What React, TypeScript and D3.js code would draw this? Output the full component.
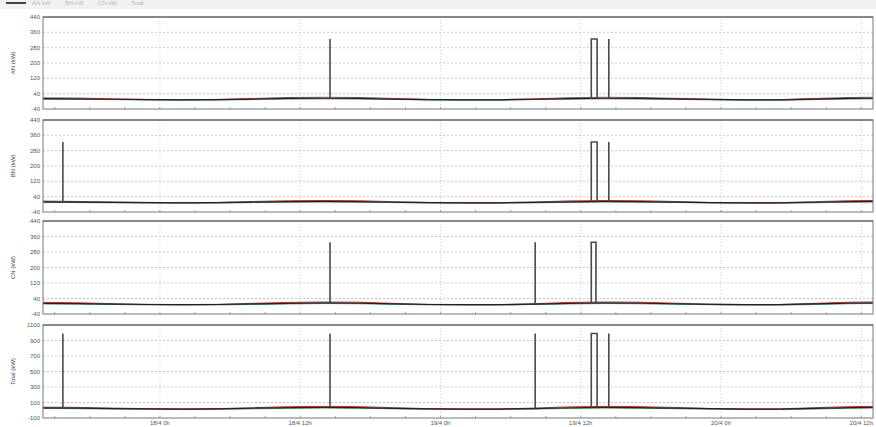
import React from "react";
import * as d3 from "d3";

// time in hours relative to 18/4 0h
const times = [-10, -7, -4, -1, 2, 5, 8, 11, 14, 17, 20, 23, 26, 29, 32, 35, 38, 41, 44, 47, 50, 53, 56, 59, 61];

const anAvg = [14, 13, 11, 9, 8, 9, 12, 15, 16, 15, 12, 9, 8, 8, 11, 14, 16, 15, 13, 10, 8, 8, 12, 15, 16];
const anMax = [18, 17, 13, 10, 9, 10, 15, 20, 21, 20, 15, 10, 9, 9, 13, 19, 21, 20, 16, 11, 9, 9, 15, 20, 21];
const anMin = [11, 10, 9, 7, 6, 7, 9, 12, 13, 12, 10, 7, 6, 6, 9, 11, 13, 12, 10, 8, 6, 6, 9, 12, 13];

const bnAvg = [13, 12, 10, 9, 8, 9, 12, 14, 15, 14, 11, 9, 8, 8, 10, 13, 15, 14, 12, 9, 8, 8, 11, 14, 15];
const bnMax = [17, 15, 12, 10, 9, 10, 15, 19, 20, 19, 14, 10, 9, 9, 12, 18, 20, 19, 15, 10, 9, 9, 14, 19, 20];
const bnMin = [10, 9, 8, 7, 6, 7, 9, 11, 12, 11, 9, 7, 6, 6, 8, 10, 12, 11, 10, 7, 6, 6, 8, 11, 12];

const cnAvg = [15, 14, 11, 9, 8, 9, 12, 15, 17, 16, 12, 9, 8, 8, 11, 15, 17, 16, 13, 10, 8, 8, 12, 16, 17];
const cnMax = [20, 18, 13, 10, 9, 10, 15, 20, 22, 21, 15, 10, 9, 9, 13, 20, 22, 21, 16, 11, 9, 9, 15, 21, 22];
const cnMin = [12, 11, 9, 7, 6, 7, 9, 12, 14, 13, 10, 7, 6, 6, 9, 12, 14, 13, 10, 8, 6, 6, 9, 13, 14];

const totAvg = [30, 28, 22, 18, 15, 18, 26, 34, 38, 35, 25, 18, 15, 15, 22, 32, 38, 35, 28, 20, 15, 15, 25, 35, 38];
const totMax = [40, 37, 28, 21, 18, 21, 34, 46, 50, 47, 33, 21, 18, 18, 28, 44, 50, 47, 36, 23, 18, 18, 33, 47, 50];
const totMin = [22, 20, 16, 12, 9, 12, 18, 25, 29, 26, 19, 12, 9, 9, 16, 23, 29, 26, 20, 14, 9, 9, 16, 26, 29];

// spikes: start hour, end hour, value
const anSpikeStart = [14.55, 36.9, 38.4];
const anSpikeEnd = [14.55, 37.4, 38.4];
const anSpikeValue = [325, 325, 325];

const bnSpikeStart = [-8.3, 36.9, 38.4];
const bnSpikeEnd = [-8.3, 37.4, 38.4];
const bnSpikeValue = [325, 325, 325];

const cnSpikeStart = [14.55, 32.1, 36.9];
const cnSpikeEnd = [14.55, 32.1, 37.3];
const cnSpikeValue = [330, 330, 330];

const totSpikeStart = [-8.3, 14.55, 32.1, 36.9, 38.4];
const totSpikeEnd = [-8.3, 14.55, 32.1, 37.4, 38.4];
const totSpikeValue = [990, 990, 990, 990, 990];

const phaseTicks = [-40, 40, 120, 200, 280, 360, 440];
const totalTicks = [-100, 100, 300, 500, 700, 900, 1100];

const xTickHours = [0, 12, 24, 36, 48, 60];
const xTickLabels = ["18/4 0h", "18/4 12h", "19/4 0h", "19/4 12h", "20/4 0h", "20/4 12h"];
const xMinorHours = d3.range(-9, 61, 3);

const toolbarLabels = ["Sum", "AN kW", "BN kW", "CN kW", "Total"];

const panels = [
  { title: "AN (kW)", ticks: phaseTicks, avg: anAvg, max: anMax, min: anMin, s: anSpikeStart, e: anSpikeEnd, v: anSpikeValue, top: 17, bottom: 109 },
  { title: "BN (kW)", ticks: phaseTicks, avg: bnAvg, max: bnMax, min: bnMin, s: bnSpikeStart, e: bnSpikeEnd, v: bnSpikeValue, top: 120, bottom: 212 },
  { title: "CN (kW)", ticks: phaseTicks, avg: cnAvg, max: cnMax, min: cnMin, s: cnSpikeStart, e: cnSpikeEnd, v: cnSpikeValue, top: 221, bottom: 314 },
  { title: "Total (kW)", ticks: totalTicks, avg: totAvg, max: totMax, min: totMin, s: totSpikeStart, e: totSpikeEnd, v: totSpikeValue, top: 325, bottom: 418 },
];

const LEFT = 43;
const RIGHT = 873;

export default function App() {
  const x = d3.scaleLinear().domain([-10, 61]).range([LEFT, RIGHT]);
  const font = "Arial, 'Liberation Sans', sans-serif";
  return (
    <svg width={876} height={427} style={{ position: "absolute", left: 0, top: 0, background: "#fff" }} fontFamily={font}>
      <rect x={0} y={0} width={876} height={427} fill="#fff" />
      <rect x={0} y={0} width={876} height={9} fill="#f1f1f1" />
      <rect x={6} y={2} width={20} height={2} fill="#444" />
      {toolbarLabels.map((t, i) =>
        i === 0 ? null : (
          <text key={t} x={32 + (i - 1) * 33} y={5} fontSize={6} fill="#bbb">{t}</text>
        )
      )}
      {panels.map((p, pi) => {
        const y = d3.scaleLinear().domain([p.ticks[0], p.ticks[p.ticks.length - 1]]).range([p.bottom, p.top]);
        const mk = (vals: number[]) =>
          d3.line<number>().x((_, i) => x(times[i])).y((d) => y(d)).curve(d3.curveLinear)(vals) || "";
        const baseAt = (t: number) => {
          const i = d3.bisectRight(times, t) - 1;
          const j = Math.min(i + 1, times.length - 1);
          const f = j === i ? 0 : (t - times[i]) / (times[j] - times[i]);
          return p.avg[i] + (p.avg[j] - p.avg[i]) * f;
        };
        return (
          <g key={pi}>
            {p.ticks.slice(1, -1).map((t) => (
              <line key={t} x1={LEFT} x2={RIGHT} y1={y(t)} y2={y(t)} stroke="#bbb" strokeWidth={0.8} strokeDasharray="2,2" />
            ))}
            {xTickHours.map((h) => (
              <line key={h} x1={x(h)} x2={x(h)} y1={p.top} y2={p.bottom} stroke="#c4c4c4" strokeWidth={0.8} strokeDasharray="1,2" />
            ))}
            {xMinorHours.map((h) => (
              <line key={"m" + h} x1={x(h)} x2={x(h)} y1={p.bottom} y2={p.bottom - 2} stroke="#888" strokeWidth={0.7} />
            ))}
            <path d={mk(p.min)} fill="none" stroke="#3a8f8a" strokeWidth={1} />
            <path d={mk(p.max)} fill="none" stroke="#c0392b" strokeWidth={1} />
            <path d={mk(p.avg)} fill="none" stroke="#222" strokeWidth={1.2} />
            {p.s.map((s, i) => {
              const e = p.e[i];
              const b0 = y(baseAt(s));
              const b1 = y(baseAt(e));
              const top = y(p.v[i]);
              const d = `M${x(s)},${b0}L${x(s)},${top}L${x(e)},${top}L${x(e)},${b1}`;
              return <path key={i} d={d} fill="none" stroke="#4a4a4a" strokeWidth={1.6} />;
            })}
            <rect x={LEFT} y={p.top} width={RIGHT - LEFT} height={p.bottom - p.top} fill="none" stroke="#777" strokeWidth={1} />
            <line x1={LEFT} x2={RIGHT} y1={p.top} y2={p.top} stroke="#555" strokeWidth={1.2} />
            {p.ticks.map((t) => (
              <text key={"l" + t} x={LEFT - 3} y={y(t) + 2} fontSize={6} fill="#555" textAnchor="end">{t}</text>
            ))}
            <text
              transform={`translate(15,${(p.top + p.bottom) / 2}) rotate(-90)`}
              fontSize={6}
              fill="#444"
              textAnchor="middle"
            >
              {p.title}
            </text>
          </g>
        );
      })}
      {xTickHours.map((h, i) => (
        <text key={"x" + h} x={x(h)} y={425} fontSize={6} fill="#555" textAnchor="middle">{xTickLabels[i]}</text>
      ))}
    </svg>
  );
}
